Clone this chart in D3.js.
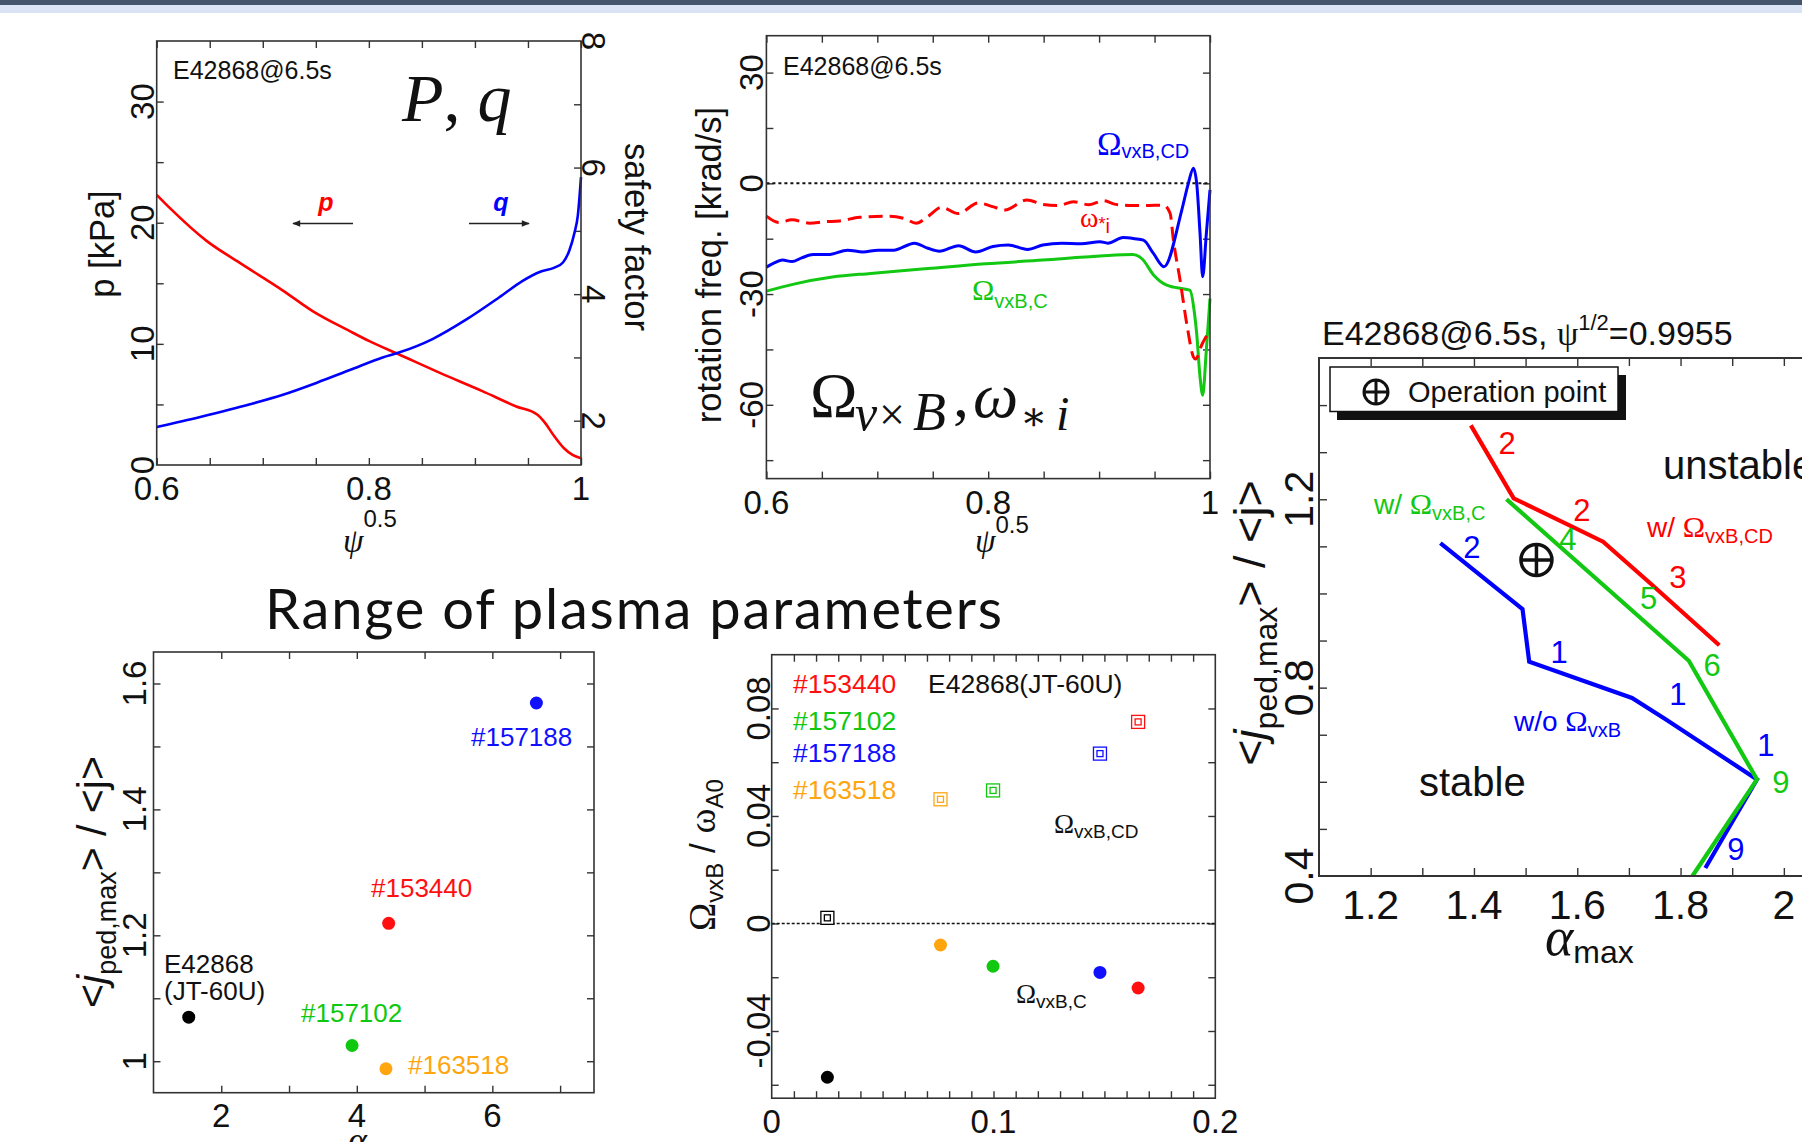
<!DOCTYPE html>
<html>
<head>
<meta charset="utf-8">
<script src="https://cdn.jsdelivr.net/npm/d3@7"></script>
<style>
  body { margin: 0; background: #fff; }
  svg text { font-family: "Liberation Sans", Arial, sans-serif; fill: #111; }
</style>
</head>
<body>
<svg id="fig" width="1802" height="1142"></svg>
<script>
// ---------- data ----------

// panel 1: pressure and safety factor vs psi^0.5
const psiP = [0.6, 0.6125, 0.647, 0.678, 0.719, 0.747, 0.782, 0.801, 0.829, 0.867, 0.907, 0.939, 0.959, 0.965, 0.975, 0.984, 0.992, 1.0];
const pKPa = [22.3, 21.2, 18.5, 16.7, 14.4, 12.7, 11.05, 10.2, 9.1, 7.6, 6.1, 4.83, 4.14, 3.6, 2.35, 1.38, 0.83, 0.55];
const psiQ = [0.6, 0.641, 0.688, 0.719, 0.751, 0.782, 0.813, 0.829, 0.86, 0.892, 0.923, 0.945, 0.961, 0.975, 0.983, 0.989, 0.994, 0.997, 1.0];
const qVal = [1.9, 2.06, 2.26, 2.41, 2.6, 2.8, 3.0, 3.08, 3.29, 3.6, 3.95, 4.21, 4.35, 4.42, 4.5, 4.69, 4.98, 5.24, 5.85];

// panel 2: rotation frequencies [krad/s]
const psiWs = [0.6, 0.611, 0.623, 0.639, 0.652, 0.666, 0.684, 0.711, 0.725, 0.735, 0.746, 0.758, 0.773, 0.791, 0.804, 0.815, 0.835, 0.849, 0.863, 0.877, 0.891, 0.904, 0.915, 0.929, 0.942, 0.958, 0.964, 0.967, 0.973, 0.9795, 0.985, 0.987, 0.9925, 1.0];
const omegaStar = [-8.9, -10.6, -9.9, -10.8, -10.4, -10.2, -9.2, -8.9, -9.6, -10.8, -8.9, -6.5, -8.2, -5.3, -6.3, -7.2, -4.5, -5.7, -6.0, -5.0, -5.8, -4.7, -5.7, -6.0, -6.0, -5.9, -8.1, -15.4, -26.2, -38.9, -47.0, -47.6, -43.8, -39.8];
const psiCD = [0.6, 0.6076, 0.6145, 0.6231, 0.6318, 0.6421, 0.6559, 0.6732, 0.687, 0.7008, 0.7146, 0.7336, 0.7456, 0.756, 0.7733, 0.7888, 0.8043, 0.8181, 0.8354, 0.8492, 0.8664, 0.8837, 0.9009, 0.9078, 0.9217, 0.932, 0.94, 0.949, 0.9585, 0.9745, 0.9805, 0.985, 0.988, 0.991, 0.9934, 0.9967, 1.0];
const omegaCD = [-22.7, -21.5, -20.8, -21.2, -20.2, -19.3, -19.3, -18.1, -18.6, -18.1, -18.1, -16.2, -17.6, -18.4, -16.9, -18.6, -17.1, -16.7, -17.9, -16.7, -16.2, -16.4, -15.8, -16.2, -14.7, -15.0, -15.4, -19.0, -22.6, -7.3, 0.0, 4.1, 0.0, -13.5, -25.3, -13.6, -1.8];
const psiC = [0.6, 0.6248, 0.6594, 0.6939, 0.7456, 0.7974, 0.8492, 0.9009, 0.9303, 0.9389, 0.9493, 0.961, 0.978, 0.982, 0.986, 0.988, 0.991, 0.9934, 0.9967, 1.0];
const omegaC = [-29.2, -27.3, -25.4, -24.4, -23.1, -21.8, -20.8, -19.7, -19.3, -20.5, -24.9, -27.6, -28.7, -29.0, -35.2, -40.7, -52.4, -57.4, -45.2, -31.2];

// panels 3 and 4: discharges
const shots = ["E42868", "#153440", "#157102", "#157188", "#163518"];
const shotColors = ["#000000", "#ff1010", "#10c810", "#1010ff", "#ffa510"];
const alphaMax = [1.52, 4.47, 3.93, 6.65, 4.43];
const jRatio = [1.07, 1.219, 1.025, 1.569, 0.988];
const xOmega = [0.0251, 0.1652, 0.0998, 0.148, 0.0761];
const omegaCDnorm = [0.0021, 0.075, 0.0495, 0.0632, 0.0462];
const omegaCnorm = [-0.0572, -0.024, -0.0159, -0.0182, -0.008];

// panel 5: stability boundaries
const alphaWithCD = [1.394, 1.477, 1.65, 1.744, 1.875];
const jWithCD = [1.357, 1.202, 1.11, 1.019, 0.89];
const alphaWithC = [1.463, 1.816, 1.948, 1.823];
const jWithC = [1.2, 0.857, 0.605, 0.4];
const alphaNoRot = [1.335, 1.494, 1.507, 1.706, 1.771, 1.948, 1.848];
const jNoRot = [1.107, 0.967, 0.855, 0.778, 0.733, 0.605, 0.417];
const opAlpha = [1.521];
const opJ = [1.071];
// toroidal mode numbers written along the boundaries
const modeText = ["2", "2", "3", "4", "5", "6", "9", "2", "1", "1", "1", "9"];
const modeAlpha = [1.464, 1.609, 1.795, 1.582, 1.738, 1.861, 1.994, 1.396, 1.565, 1.795, 1.965, 1.907];
const modeJ = [1.319, 1.177, 1.034, 1.115, 0.991, 0.848, 0.60, 1.098, 0.876, 0.786, 0.677, 0.458];
const modeColor = ["red", "red", "red", "green", "green", "green", "green", "blue", "blue", "blue", "blue", "blue"];

// tick values
const ticksPsi = [0.6, 0.65, 0.7, 0.75, 0.8, 0.85, 0.9, 0.95, 1.0];
const labelsPsi = [0.6, 0.8, 1.0];
const ticksP = [5, 10, 15, 20, 25, 30];
const labelsP = [0, 10, 20, 30];
const ticksQ = [2, 3, 4, 5, 6, 7];
const labelsQ = [2, 4, 6, 8];
const ticksRot = [-75, -60, -45, -30, -15, 0, 15, 30];
const labelsRot = [-60, -30, 0, 30];
const ticksA3 = [2, 3, 4, 5, 6, 7];
const labelsA3 = [2, 4, 6];
const ticksJ3 = [1.0, 1.1, 1.2, 1.3, 1.4, 1.5, 1.6];
const labelsJ3 = [1, 1.2, 1.4, 1.6];
const ticksX4 = d3.range(1, 20).map(d => d / 100);
const labelsX4 = [0, 0.1, 0.2];
const ticksY4 = [-0.06, -0.04, -0.02, 0, 0.02, 0.04, 0.06, 0.08];
const labelsY4 = [-0.04, 0, 0.04, 0.08];
const ticksA5 = [1.2, 1.3, 1.4, 1.5, 1.6, 1.7, 1.8, 1.9, 2.0];
const labelsA5 = [1.2, 1.4, 1.6, 1.8, 2];
const ticksJ5 = [0.5, 0.6, 0.7, 0.8, 0.9, 1.0, 1.1, 1.2, 1.3, 1.4];
const labelsJ5 = [0.4, 0.8, 1.2];

const RED = "#ff0000", BLUE = "#0000ff", GREEN = "#12c812";
const SERIF = "'Liberation Serif', 'DejaVu Serif', serif";
const TICK = 33, LAB = 34.5;

const svg = d3.select("#fig");

// slide header band
svg.append("rect").attr("x", 0).attr("y", 0).attr("width", 1802).attr("height", 5).attr("fill", "#44546a");
svg.append("rect").attr("x", 0).attr("y", 5).attr("width", 1802).attr("height", 8).attr("fill", "#dae3f3");

// ---------- helpers ----------
function cleanAxis(g) {
    g.select(".domain").remove();
    g.selectAll(".tick line").attr("stroke", "#333").attr("stroke-width", 1.4);
}
function addAxis(tr, ax) {
    svg.append("g").attr("transform", tr).call(ax).call(cleanAxis);
}
function boxTicks(x, y, xv, yv, len, noRight) {
    const [xa, xb] = x.range(), [yb, ya] = y.range();
    addAxis(`translate(0,${yb})`, d3.axisBottom(x).tickValues(xv).tickSize(-len).tickFormat(""));
    addAxis(`translate(0,${ya})`, d3.axisTop(x).tickValues(xv).tickSize(-len).tickFormat(""));
    addAxis(`translate(${xa},0)`, d3.axisLeft(y).tickValues(yv).tickSize(-len).tickFormat(""));
    if (!noRight) addAxis(`translate(${xb},0)`, d3.axisRight(y).tickValues(yv).tickSize(-len).tickFormat(""));
}
function frame(x, y, sw) {
    const [xa, xb] = x.range(), [yb, ya] = y.range();
    svg.append("rect").attr("x", xa).attr("y", ya).attr("width", xb - xa).attr("height", yb - ya)
        .attr("fill", "none").attr("stroke", "#333").attr("stroke-width", sw);
}
function xLabels(x, vals, yc, size) {
    svg.append("g").selectAll("text").data(vals).join("text")
        .attr("x", d => x(d)).attr("y", yc).attr("dy", "0.35em")
        .attr("text-anchor", "middle").style("font-size", size + "px").text(d => d);
}
function yLabels(y, vals, xc, size, rot) {
    svg.append("g").selectAll("text").data(vals).join("text")
        .attr("transform", d => `translate(${xc},${y(d)}) rotate(${rot})`)
        .attr("dy", "0.35em").attr("text-anchor", "middle")
        .style("font-size", size + "px").text(d => d);
}
// text built from parts: {t, s: size, serif, it: italic, o: baseline offset (down +)}
function rich(parent, x, y, parts, fill, anchor) {
    const t = parent.append("text").attr("x", x).attr("y", y)
        .attr("text-anchor", anchor || "start").style("fill", fill || "#111");
    let cur = 0;
    parts.forEach(p => {
        const s = t.append("tspan").text(p.t).style("font-size", p.s + "px").style("fill", fill || "#111");
        if (p.serif) s.style("font-family", SERIF);
        if (p.it) s.style("font-style", "italic");
        if (p.x !== undefined) s.attr("x", p.x);
        const off = p.o || 0;
        s.attr("dy", off - cur);
        cur = off;
    });
    return t;
}
function rotLabel(xc, yc, rot, parts, fill, size) {
    const g = svg.append("g").attr("transform", `translate(${xc},${yc}) rotate(${rot})`);
    rich(g, 0, size * 0.35, parts, fill, "middle");
}
function plain(x, y, txt, size, fill, extra) {
    const t = svg.append("text").attr("x", x).attr("y", y).attr("dy", "0.35em")
        .style("font-size", size + "px").style("fill", fill || "#111").text(txt);
    if (extra) extra(t);
    return t;
}

// ---------- panel 1: p and q ----------
const x1 = d3.scaleLinear().domain([0.6, 1]).range([156.7, 581]);
const y1 = d3.scaleLinear().domain([0, 35]).range([465, 41]);
const y1q = d3.scaleLinear().domain([1.3, 8]).range([465, 41]);

addAxis(`translate(0,465)`, d3.axisBottom(x1).tickValues(ticksPsi).tickSize(-7).tickFormat(""));
addAxis(`translate(0,41)`, d3.axisTop(x1).tickValues(ticksPsi).tickSize(-7).tickFormat(""));
addAxis(`translate(156.7,0)`, d3.axisLeft(y1).tickValues(ticksP).tickSize(-7).tickFormat(""));
addAxis(`translate(581,0)`, d3.axisRight(y1q).tickValues(ticksQ).tickSize(-7).tickFormat(""));

svg.append("path").datum(psiP.map((d, i) => [d, pKPa[i]]))
    .attr("fill", "none").attr("stroke", RED).attr("stroke-width", 2.6)
    .attr("d", d3.line().x(d => x1(d[0])).y(d => y1(d[1])).curve(d3.curveMonotoneX));
svg.append("path").datum(psiQ.map((d, i) => [d, qVal[i]]))
    .attr("fill", "none").attr("stroke", BLUE).attr("stroke-width", 2.6)
    .attr("d", d3.line().x(d => x1(d[0])).y(d => y1q(d[1])).curve(d3.curveMonotoneX));
frame(x1, y1, 1.6);

xLabels(x1, labelsPsi, 488, TICK);
yLabels(y1, labelsP, 142, TICK, -90);
yLabels(y1q, labelsQ, 594, TICK, 90);
rotLabel(102, 244, -90, [{t: "p [kPa]", s: LAB}], "#111", LAB);
rotLabel(637, 237, 90, [{t: "safety factor", s: LAB}], "#111", LAB);
rich(svg, 343, 552, [{t: "ψ", s: 33, serif: true, it: true}, {t: "0.5", s: 24, o: -25}]);
plain(173, 70, "E42868@6.5s", 25);
rich(svg, 402, 121, [{t: "P", s: 68, serif: true, it: true}, {t: ", ", s: 68, serif: true}, {t: "q", s: 68, serif: true, it: true}]);
plain(326, 202, "p", 25, RED, t => t.attr("text-anchor", "middle").style("font-weight", "bold").style("font-style", "italic"));
plain(501, 202, "q", 25, BLUE, t => t.attr("text-anchor", "middle").style("font-weight", "bold").style("font-style", "italic"));

// arrows
const defs = svg.append("defs");
defs.append("marker").attr("id", "arrow").attr("viewBox", "0 0 10 10").attr("refX", 9).attr("refY", 5)
    .attr("markerWidth", 10).attr("markerHeight", 8).attr("markerUnits", "userSpaceOnUse").attr("orient", "auto")
    .append("path").attr("d", "M0,1 L10,5 L0,9 z").attr("fill", "#222");
[[353, 293], [469, 529]].forEach(a => {
    svg.append("line").attr("x1", a[0]).attr("x2", a[1]).attr("y1", 223.5).attr("y2", 223.5)
        .attr("stroke", "#222").attr("stroke-width", 1.5).attr("marker-end", "url(#arrow)");
});

// ---------- panel 2: rotation ----------
const x2 = d3.scaleLinear().domain([0.6, 1]).range([766.4, 1210]);
const y2 = d3.scaleLinear().domain([-80, 40]).range([478.6, 35.7]);
boxTicks(x2, y2, ticksPsi, ticksRot, 7);
svg.append("line").attr("x1", x2(0.6)).attr("x2", x2(1)).attr("y1", y2(0)).attr("y2", y2(0))
    .attr("stroke", "#111").attr("stroke-width", 2).attr("stroke-dasharray", "3,3");
const line2 = d3.line().x(d => x2(d[0])).y(d => y2(d[1])).curve(d3.curveMonotoneX);
svg.append("path").datum(psiC.map((d, i) => [d, omegaC[i]]))
    .attr("fill", "none").attr("stroke", GREEN).attr("stroke-width", 3).attr("d", line2);
svg.append("path").datum(psiWs.map((d, i) => [d, omegaStar[i]]))
    .attr("fill", "none").attr("stroke", RED).attr("stroke-width", 3).attr("stroke-dasharray", "14,7").attr("d", line2);
svg.append("path").datum(psiCD.map((d, i) => [d, omegaCD[i]]))
    .attr("fill", "none").attr("stroke", BLUE).attr("stroke-width", 3).attr("d", line2);
frame(x2, y2, 1.6);

xLabels(x2, labelsPsi, 502, TICK);
yLabels(y2, labelsRot, 751, TICK, -90);
rotLabel(709, 265, -90, [{t: "rotation freq. [krad/s]", s: LAB}], "#111", LAB);
rich(svg, 975, 552, [{t: "ψ", s: 33, serif: true, it: true}, {t: "0.5", s: 24, o: -19}]);
plain(783, 66, "E42868@6.5s", 25);
rich(svg, 1097, 155, [{t: "Ω", s: 33, serif: true}, {t: "vxB,CD", s: 20, o: 3}], BLUE);
rich(svg, 1080, 227, [{t: "ω", s: 28, serif: true}, {t: "*", s: 18, o: 3}, {t: "i", s: 20, o: 6}], RED);
rich(svg, 972, 300, [{t: "Ω", s: 30, serif: true}, {t: "vxB,C", s: 20, o: 8}], GREEN);
rich(svg, 810, 417, [
    {t: "Ω", s: 64, serif: true},
    {t: "v", s: 50, serif: true, it: true, o: 13, x: 855},
    {t: "×", s: 46, serif: true, o: 13, x: 879},
    {t: "B", s: 54, serif: true, it: true, o: 13, x: 913},
    {t: ",", s: 64, serif: true, x: 953},
    {t: "ω", s: 64, serif: true, it: true, x: 973},
    {t: "∗", s: 40, serif: true, o: 13, x: 1020},
    {t: "i", s: 48, serif: true, it: true, o: 13, x: 1056}
], "#111");

// ---------- title ----------
svg.append("text").attr("x", 265).attr("y", 629).style("font-family", "Lato, 'Open Sans', sans-serif")
    .style("font-size", "56px").attr("textLength", 737).attr("lengthAdjust", "spacing")
    .text("Range of plasma parameters");

// ---------- panel 3: j vs alpha ----------
const x3 = d3.scaleLinear().domain([1, 7.5]).range([153.5, 594]);
const y3 = d3.scaleLinear().domain([0.95, 1.65]).range([1092.7, 652]);
boxTicks(x3, y3, ticksA3, ticksJ3, 7);
frame(x3, y3, 1.6);
svg.append("g").selectAll("circle").data(shots).join("circle")
    .attr("cx", (d, i) => x3(alphaMax[i])).attr("cy", (d, i) => y3(jRatio[i])).attr("r", 6.5)
    .attr("fill", (d, i) => shotColors[i]);
xLabels(x3, labelsA3, 1115, TICK);
yLabels(y3, labelsJ3, 134, TICK, -90);
rotLabel(92, 882, -90, [
    {t: "<", s: 41}, {t: "j", s: 41, it: true}, {t: "ped,max", s: 27, o: 10},
    {t: ">  /  <j>", s: 41, o: 0}
], "#111", 41);
rich(svg, 348, 1152, [{t: "α", s: 36, serif: true, it: true}]);
// shot labels
plain(471, 737, "#157188", 26, shotColors[3]);
plain(371, 888, "#153440", 26, shotColors[1]);
plain(164, 964, "E42868", 26, "#111");
plain(164, 991, "(JT-60U)", 26, "#111");
plain(301, 1013, "#157102", 26, shotColors[2]);
plain(408, 1065, "#163518", 26, shotColors[4]);

// ---------- panel 4: rotation vs ----------
const x4 = d3.scaleLinear().domain([0, 0.2]).range([771.7, 1215.3]);
const y4 = d3.scaleLinear().domain([-0.065, 0.1]).range([1098.2, 654.7]);
boxTicks(x4, y4, ticksX4, ticksY4, 7);
svg.append("line").attr("x1", x4(0)).attr("x2", x4(0.2)).attr("y1", y4(0)).attr("y2", y4(0))
    .attr("stroke", "#111").attr("stroke-width", 1.3).attr("stroke-dasharray", "3,2");
frame(x4, y4, 1.6);
const sq = svg.append("g").selectAll("g").data(shots).join("g")
    .attr("transform", (d, i) => `translate(${x4(xOmega[i])},${y4(omegaCDnorm[i])})`);
sq.append("rect").attr("x", -6.5).attr("y", -6.5).attr("width", 13).attr("height", 13)
    .attr("fill", "#fff").attr("stroke", (d, i) => shotColors[i]).attr("stroke-width", 1.3);
sq.append("rect").attr("x", -3).attr("y", -3).attr("width", 6).attr("height", 6)
    .attr("fill", "none").attr("stroke", (d, i) => shotColors[i]).attr("stroke-width", 1.3);
svg.append("g").selectAll("circle").data(shots).join("circle")
    .attr("cx", (d, i) => x4(xOmega[i])).attr("cy", (d, i) => y4(omegaCnorm[i])).attr("r", 6.5)
    .attr("fill", (d, i) => shotColors[i]);
xLabels(x4, labelsX4, 1121, TICK);
yLabels(y4, labelsY4, 758, TICK, -90);
rotLabel(703, 855, -90, [
    {t: "Ω", s: 38, serif: true}, {t: "vxB", s: 24, o: 8},
    {t: " / ", s: 35, o: 0}, {t: "ω", s: 38, serif: true}, {t: "A0", s: 24, o: 8}
], "#111", 35);
plain(793, 684, "#153440", 26.5, shotColors[1]);
plain(928, 684, "E42868(JT-60U)", 26.5, "#111");
plain(793, 721, "#157102", 26.5, shotColors[2]);
plain(793, 753, "#157188", 26.5, shotColors[3]);
plain(793, 790, "#163518", 26.5, shotColors[4]);
rich(svg, 1054, 833, [{t: "Ω", s: 27, serif: true}, {t: "vxB,CD", s: 19, o: 5}]);
rich(svg, 1016, 1003, [{t: "Ω", s: 27, serif: true}, {t: "vxB,C", s: 19, o: 5}]);

// ---------- panel 5: stability diagram ----------
const x5 = d3.scaleLinear().domain([1.1, 2.1]).range([1319, 1835.5]);
const y5 = d3.scaleLinear().domain([0.4, 1.5]).range([876, 358]);
boxTicks(x5, y5, ticksA5, ticksJ5, 8, true);
const line5 = d3.line().x(d => x5(d[0])).y(d => y5(d[1]));
svg.append("path").datum(alphaNoRot.map((d, i) => [d, jNoRot[i]]))
    .attr("fill", "none").attr("stroke", BLUE).attr("stroke-width", 4.2).attr("d", line5);
svg.append("path").datum(alphaWithC.map((d, i) => [d, jWithC[i]]))
    .attr("fill", "none").attr("stroke", GREEN).attr("stroke-width", 4.2).attr("d", line5);
svg.append("path").datum(alphaWithCD.map((d, i) => [d, jWithCD[i]]))
    .attr("fill", "none").attr("stroke", RED).attr("stroke-width", 4.2).attr("d", line5);
frame(x5, y5, 2);

// operation point marker
function oplus(g, cx, cy, r, sw) {
    g.append("circle").attr("cx", cx).attr("cy", cy).attr("r", r).attr("fill", "none").attr("stroke", "#111").attr("stroke-width", sw);
    g.append("line").attr("x1", cx - r).attr("x2", cx + r).attr("y1", cy).attr("y2", cy).attr("stroke", "#111").attr("stroke-width", sw);
    g.append("line").attr("x1", cx).attr("x2", cx).attr("y1", cy - r).attr("y2", cy + r).attr("stroke", "#111").attr("stroke-width", sw);
}
opAlpha.forEach((a, i) => oplus(svg, x5(a), y5(opJ[i]), 15.5, 3.5));

// legend box with shadow
svg.append("rect").attr("x", 1337).attr("y", 375).attr("width", 289).attr("height", 45).attr("fill", "#111");
svg.append("rect").attr("x", 1330).attr("y", 367).attr("width", 288).attr("height", 44.5)
    .attr("fill", "#fff").attr("stroke", "#111").attr("stroke-width", 1.5);
oplus(svg, 1376, 392, 12, 3);
plain(1408, 392, "Operation point", 29);

const cmap = {red: RED, green: GREEN, blue: BLUE};
svg.append("g").selectAll("text").data(modeText).join("text")
    .attr("x", (d, i) => x5(modeAlpha[i])).attr("y", (d, i) => y5(modeJ[i])).attr("dy", "0.35em")
    .attr("text-anchor", "middle").style("font-size", "31px")
    .style("fill", (d, i) => cmap[modeColor[i]]).text(d => d);

plain(1663, 465, "unstable", 40);
plain(1419, 782, "stable", 40);
rich(svg, 1647, 537, [{t: "w/ ", s: 28}, {t: "Ω", s: 30, serif: true}, {t: "vxB,CD", s: 20, o: 6}], RED);
rich(svg, 1374, 514, [{t: "w/ ", s: 28}, {t: "Ω", s: 30, serif: true}, {t: "vxB,C", s: 20, o: 6}], GREEN);
rich(svg, 1514, 731, [{t: "w/o ", s: 28}, {t: "Ω", s: 30, serif: true}, {t: "vxB", s: 20, o: 6}], BLUE);

xLabels(x5, labelsA5, 905, 41);
yLabels(y5, labelsJ5, 1299, 41, -90);
rich(svg, 1322, 345, [{t: "E42868@6.5s, ", s: 34}, {t: "ψ", s: 34, serif: true}, {t: "1/2", s: 22, o: -15}, {t: "=0.9955", s: 34, o: 0}]);
rotLabel(1249, 623, -90, [
    {t: "<", s: 45}, {t: "j", s: 45, it: true}, {t: "ped,max", s: 32, o: 12},
    {t: ">  /  <j>", s: 45, o: 0}
], "#111", 45);
rich(svg, 1545, 955, [{t: "α", s: 54, serif: true, it: true}, {t: "max", s: 32, o: 8}]);
</script>
</body>
</html>
